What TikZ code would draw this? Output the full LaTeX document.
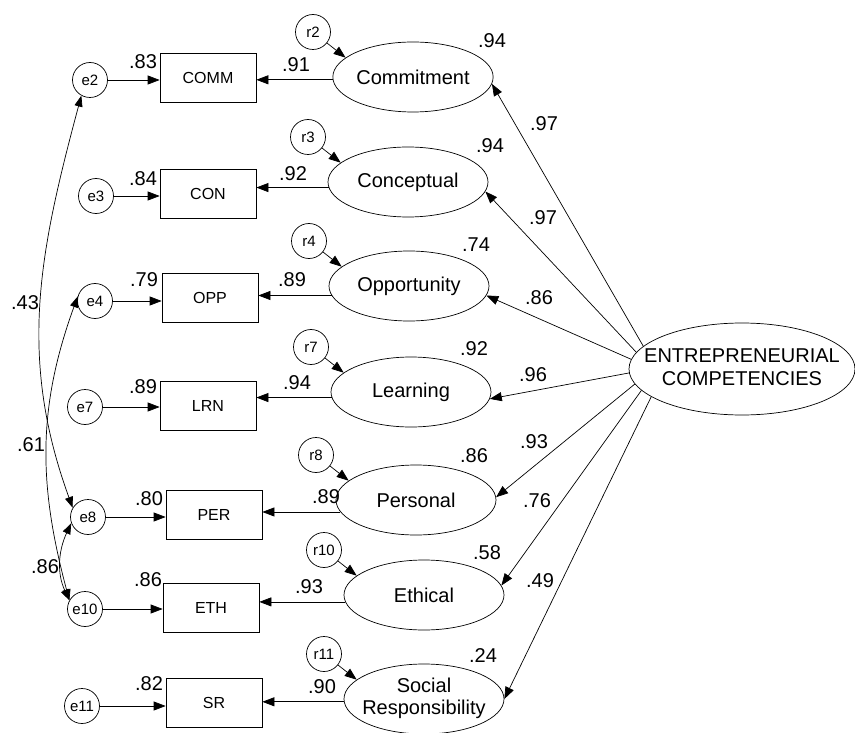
\documentclass[tikz,border=0pt]{standalone}
\usepackage{fontspec}
\setmainfont{Liberation Sans}
\usetikzlibrary{shapes.geometric, arrows.meta, positioning}

\newcommand{\stackpair}[2]{\makebox[0pt]{\begin{tabular}{@{}c@{}}#1\\#2\end{tabular}}}

\begin{document}
\begin{tikzpicture}[x=1pt, y=-1pt, line width=0.7pt,
    errvar/.style={circle, draw, minimum size=35pt, inner sep=0pt, font=\fontsize{15}{15}\selectfont},
    obsvar/.style={rectangle, draw, minimum width=96pt, minimum height=49pt, inner sep=0pt, font=\fontsize{16}{16}\selectfont},
    latvar/.style={ellipse, draw, minimum width=160pt, minimum height=70pt, inner sep=0pt, font=\fontsize{20}{22}\selectfont},
    load/.style={-{Triangle[length=12pt, width=9pt]}},
    corr/.style={{Triangle[length=11pt, width=8pt]}-{Triangle[length=11pt, width=8pt]}},
    coef/.style={inner sep=0pt, font=\fontsize{20}{20}\selectfont}]
        \useasboundingbox (0,0) rectangle (855,733);
        % indicators, first order factors and their errors
        \foreach \i/\ex/\ey/\ox/\oy/\lx/\ly/\d/\m/\t in {
            2/90/80/208/78/413/77/182/COMM/Commitment,
            3/96/196/208/194/408/182/184/CON/Conceptual,
            4/95/301/210/298/409/286/187/OPP/Opportunity,
            7/85/407/208/406/411/392/184/LRN/Learning,
            8/88/517/214/515/416/500/189/PER/Personal,
            10/85/609/211/608/424/595/185/ETH/Ethical,
            11/82/706/214/703/424/699/182/SR/{\stackpair{Social}{Responsibility}}} {
            \node[errvar] (e\i) at (\ex,\ey) {e\i};
            \node[obsvar] (o\i) at (\ox,\oy) {\m};
            \node[latvar] (l\i) at (\lx,\ly) {\t};
            \node[errvar] (r\i) at (\lx-100,\ly-45) {r\i};
            \draw[load] (e\i) -- (e\i -| o\i.west);
            \draw[load] (l\i.\d) -- (l\i.\d -| o\i.east);
            \draw[load] (r\i) -- (l\i.164);
        }
        % second order factor
        \node[latvar, minimum width=226pt, minimum height=92pt, font=\fontsize{20}{23}\selectfont] (ec) at (742,369) {\stackpair{ENTREPRENEURIAL}{COMPETENCIES}};
        \foreach \i/\a/\b in {2/167/-5, 3/171/-7, 4/175/-7, 7/182/-5, 8/188/2, 10/192/7, 11/197/0}
            \draw[load] (ec.\a) -- (l\i.\b);
        % error covariances
        \draw[corr] (e2.-119) to[out=-105, in=110] (e8.149);
        \draw[corr] (e4.165) to[out=-110, in=105] (e10.151);
        \draw[corr] (e8.200) to[out=-115, in=115] (e10.151);
        % estimates
        \foreach \x/\y/\v [count=\k] in {
            296/65/.91, 293/174/.92, 292/280/.89, 297/383/.94, 326/497/.89, 309/587/.93, 322/687/.90,
            143/62/.83, 143/179/.84, 144/280/.79, 143/387/.89, 149/499/.80, 148/580/.86, 149/684/.82,
            492/41/.94, 490/146/.94, 476/245/.74, 474/349/.92, 474/456/.86, 487/553/.58, 483/656/.24,
            544/124/.97, 543/218/.97, 539/298/.86, 533/375/.96, 534/442/.93, 537/501/.76, 540/581/.49,
            25/303/.43, 31/445/.61, 45/567/.86}
            \node[coef] (est\k) at (\x,\y) {\v};
\end{tikzpicture}
\end{document}
